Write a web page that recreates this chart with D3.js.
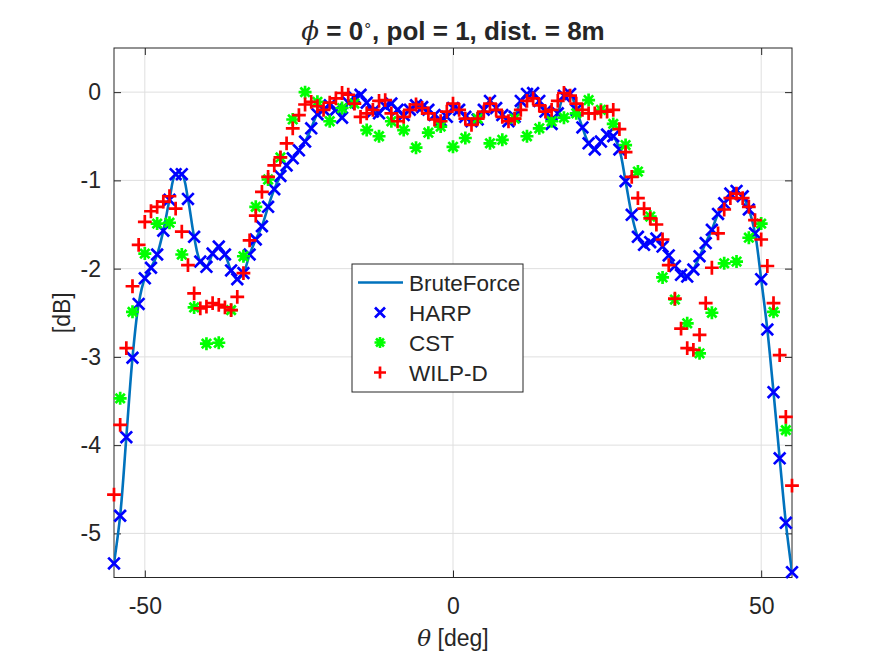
<!DOCTYPE html>
<html><head><meta charset="utf-8">
<script src="https://cdn.jsdelivr.net/npm/d3@7"></script>
<style>
body{margin:0;background:#fff;}
svg text{font-family:"Liberation Sans", Arial, Helvetica, sans-serif;fill:#262626;}
</style>
</head><body>
<svg id="chart" width="875" height="657"></svg>
<script>
// ---------- data ----------
const thetaDeg = d3.range(-55, 56, 1);   // HARP, BruteForce, WILP-D sample angles
const thetaCST = d3.range(-54, 55, 2);   // CST sample angles

const bruteForce = [
 -5.34,-4.80,-3.91,-3.01,-2.40,-2.11,-1.99,-1.84,-1.57,-1.22,
 -0.93,-0.93,-1.21,-1.64,-1.92,-1.98,-1.83,-1.75,-1.84,-2.02,
 -2.12,-2.05,-1.84,-1.67,-1.52,-1.30,-1.10,-0.95,-0.83,-0.75,
 -0.66,-0.56,-0.41,-0.25,-0.20,-0.15,-0.20,-0.29,-0.12,-0.06,
 -0.03,-0.12,-0.22,-0.24,-0.16,-0.13,-0.20,-0.26,-0.20,-0.15,
 -0.17,-0.20,-0.26,-0.32,-0.28,-0.18,-0.20,-0.28,-0.33,-0.31,
 -0.20,-0.10,-0.18,-0.26,-0.33,-0.28,-0.10,-0.02,-0.01,-0.10,
 -0.22,-0.36,-0.24,-0.04,-0.02,-0.20,-0.40,-0.58,-0.65,-0.56,
 -0.48,-0.50,-0.65,-1.01,-1.39,-1.64,-1.73,-1.70,-1.66,-1.75,
 -1.85,-1.97,-2.07,-2.09,-2.01,-1.86,-1.71,-1.56,-1.38,-1.26,
 -1.15,-1.12,-1.18,-1.33,-1.60,-2.12,-2.69,-3.40,-4.15,-4.88,
 -5.44];

const harp = [
 -5.34,-4.80,-3.91,-3.01,-2.40,-2.11,-1.99,-1.84,-1.57,-1.22,
 -0.93,-0.93,-1.21,-1.64,-1.92,-1.98,-1.83,-1.75,-1.84,-2.02,
 -2.12,-2.05,-1.84,-1.67,-1.52,-1.30,-1.10,-0.95,-0.83,-0.75,
 -0.66,-0.56,-0.41,-0.25,-0.20,-0.15,-0.20,-0.29,-0.12,-0.06,
 -0.03,-0.12,-0.22,-0.24,-0.16,-0.13,-0.20,-0.26,-0.20,-0.15,
 -0.17,-0.20,-0.26,-0.32,-0.28,-0.18,-0.20,-0.28,-0.33,-0.31,
 -0.20,-0.10,-0.18,-0.26,-0.33,-0.28,-0.10,-0.02,-0.01,-0.10,
 -0.22,-0.36,-0.24,-0.04,-0.02,-0.20,-0.40,-0.58,-0.65,-0.56,
 -0.48,-0.50,-0.65,-1.01,-1.39,-1.64,-1.73,-1.70,-1.66,-1.75,
 -1.85,-1.97,-2.07,-2.09,-2.01,-1.86,-1.71,-1.56,-1.38,-1.26,
 -1.15,-1.12,-1.18,-1.33,-1.60,-2.12,-2.69,-3.40,-4.15,-4.88,
 -5.44];

const cst = [
 -3.47,-2.49,-1.83,-1.49,-1.48,-1.84,-2.44,-2.85,-2.84,-2.47,
 -1.86,-1.30,-0.99,-0.74,-0.31, 0.00,-0.11,-0.33,-0.18,-0.13,
 -0.43,-0.50,-0.33,-0.43,-0.63,-0.46,-0.39,-0.62,-0.52,-0.30,
 -0.58,-0.54,-0.30,-0.50,-0.41,-0.33,-0.29,-0.24,-0.09,-0.20,
 -0.36,-0.60,-0.90,-1.41,-2.10,-2.35,-2.62,-2.96,-2.50,-1.94,
 -1.92,-1.65,-1.49,-2.49,-3.83];

const wilpd = [
 -4.56,-3.77,-2.90,-2.20,-1.73,-1.47,-1.35,-1.30,-1.24,-1.18,
 -1.32,-1.58,-1.96,-2.28,-2.45,-2.43,-2.39,-2.41,-2.44,-2.47,
 -2.32,-2.05,-1.68,-1.40,-1.13,-0.96,-0.83,-0.74,-0.58,-0.41,
 -0.26,-0.14,-0.11,-0.16,-0.20,-0.12,-0.07,-0.01,-0.03,-0.13,
 -0.28,-0.24,-0.20,-0.10,-0.09,-0.24,-0.33,-0.28,-0.20,-0.14,
 -0.18,-0.24,-0.31,-0.33,-0.22,-0.13,-0.20,-0.30,-0.37,-0.30,
 -0.22,-0.13,-0.20,-0.28,-0.33,-0.30,-0.20,-0.10,-0.07,-0.15,
 -0.22,-0.20,-0.10,-0.01,-0.04,-0.13,-0.20,-0.24,-0.24,-0.22,
 -0.22,-0.20,-0.42,-0.68,-0.96,-1.20,-1.32,-1.43,-1.50,-1.67,
 -1.96,-2.34,-2.68,-2.90,-2.92,-2.75,-2.39,-1.99,-1.60,-1.33,
 -1.20,-1.15,-1.20,-1.30,-1.45,-1.67,-1.97,-2.39,-2.98,-3.68,
 -4.46];

const xTicks = [-50, 0, 50];
const yTicks = [0, -1, -2, -3, -4, -5];
const seriesNames = ["BruteForce", "HARP", "CST", "WILP-D"];

// ---------- layout ----------
const svg = d3.select("#chart");
const L = 114, R = 792, T = 48, B = 577.5;
const x = d3.scaleLinear().domain([-55, 55]).range([L, R]);
const y = d3.scaleLinear().domain([-5.5, 0.5]).range([B, T]);
const axisColor = "#262626";
const gridColor = "#dfdfdf";
const tickFont = "23px";

svg.append("rect").attr("width", 875).attr("height", 657).attr("fill", "#fff");

// grid
const grid = svg.append("g");
grid.selectAll(".gx").data(xTicks).enter().append("line")
  .attr("x1", d => x(d)).attr("x2", d => x(d)).attr("y1", T).attr("y2", B)
  .attr("stroke", gridColor).attr("stroke-width", 1);
grid.selectAll(".gy").data(yTicks).enter().append("line")
  .attr("y1", d => y(d)).attr("y2", d => y(d)).attr("x1", L).attr("x2", R)
  .attr("stroke", gridColor).attr("stroke-width", 1);

// axes
const fmt = d => String(d);
const tickLen = 7;
function styleAxis(g, hideText) {
  g.select(".domain").remove();
  g.selectAll(".tick line").attr("stroke", axisColor).attr("stroke-width", 1);
  g.selectAll(".tick text").attr("fill", axisColor).style("font-size", tickFont)
    .style("font-family", '"Liberation Sans", Arial, sans-serif');
  if (hideText) g.selectAll(".tick text").remove();
}
svg.append("g").attr("transform", `translate(0,${B})`)
  .call(d3.axisBottom(x).tickValues(xTicks).tickFormat(fmt).tickSizeInner(-tickLen).tickSizeOuter(0).tickPadding(20))
  .call(g => styleAxis(g, false));
svg.append("g").attr("transform", `translate(0,${T})`)
  .call(d3.axisTop(x).tickValues(xTicks).tickSizeInner(-tickLen).tickSizeOuter(0))
  .call(g => styleAxis(g, true));
svg.append("g").attr("transform", `translate(${L},0)`)
  .call(d3.axisLeft(y).tickValues(yTicks).tickFormat(fmt).tickSizeInner(-tickLen).tickSizeOuter(0).tickPadding(13))
  .call(g => styleAxis(g, false));
svg.append("g").attr("transform", `translate(${R},0)`)
  .call(d3.axisRight(y).tickValues(yTicks).tickSizeInner(-tickLen).tickSizeOuter(0))
  .call(g => styleAxis(g, true));

// box
svg.append("rect").attr("x", L).attr("y", T).attr("width", R - L).attr("height", B - T)
  .attr("fill", "none").attr("stroke", axisColor).attr("stroke-width", 1);

// ---------- marks ----------
const markerPath = {
  x: s => `M${-s},${-s}L${s},${s}M${-s},${s}L${s},${-s}`,
  plus: s => `M${-s},0H${s}M0,${-s}V${s}`,
  star: s => { const k = s * 0.72; return `M${-s},0H${s}M0,${-s}V${s}M${-k},${-k}L${k},${k}M${-k},${k}L${k},${-k}`; }
};

svg.append("clipPath").attr("id", "plotclip").append("rect")
  .attr("x", L).attr("y", T).attr("width", R - L).attr("height", B - T);

const bfData = thetaDeg.map((t, i) => [t, bruteForce[i]]);
svg.append("path").datum(bfData)
  .attr("clip-path", "url(#plotclip)")
  .attr("fill", "none").attr("stroke", "#0072BD").attr("stroke-width", 2.6)
  .attr("stroke-linejoin", "round")
  .attr("d", d3.line().x(d => x(d[0])).y(d => y(d[1])).curve(d3.curveCatmullRom.alpha(0.5)));

function drawMarkers(xs, ys, type, size, color, width) {
  svg.append("g").selectAll("path").data(xs.map((t, i) => [t, ys[i]])).enter().append("path")
    .attr("transform", d => `translate(${x(d[0])},${y(d[1])})`)
    .attr("d", markerPath[type](size))
    .attr("fill", "none").attr("stroke", color).attr("stroke-width", width)
    .attr("stroke-linecap", "butt");
}
drawMarkers(thetaDeg, harp, "x", 5.8, "#0000FF", 2.7);
drawMarkers(thetaCST, cst, "star", 6.5, "#00FF00", 2.7);
drawMarkers(thetaDeg, wilpd, "plus", 6.9, "#FF0000", 2.7);

// ---------- legend ----------
const lg = svg.append("g");
const lgX = 352, lgY = 264, lgW = 171, lgH = 128;
lg.append("rect").attr("x", lgX).attr("y", lgY).attr("width", lgW).attr("height", lgH)
  .attr("fill", "#fff").attr("stroke", axisColor).attr("stroke-width", 1);
const rowY = i => lgY + 18.5 + i * 30;
const legendSpec = [null, ["x", 5.0, "#0000FF", 2.7], ["star", 5.5, "#00FF00", 2.6], ["plus", 6.0, "#FF0000", 2.7]];
seriesNames.forEach((name, i) => {
  const cy = rowY(i);
  if (i === 0) {
    lg.append("line").attr("x1", lgX + 6).attr("x2", lgX + 51).attr("y1", cy).attr("y2", cy)
      .attr("stroke", "#0072BD").attr("stroke-width", 2.6);
  } else {
    const spec = legendSpec[i];
    lg.append("path").attr("transform", `translate(${lgX + 28},${cy})`).attr("d", markerPath[spec[0]](spec[1]))
      .attr("fill", "none").attr("stroke", spec[2]).attr("stroke-width", spec[3]);
  }
  lg.append("text").attr("x", lgX + 57).attr("y", cy).attr("dy", "0.36em")
    .style("font-size", "22.5px").attr("fill", "#000").text(name);
});

// ---------- titles ----------
const title = svg.append("text").attr("x", (L + R) / 2).attr("y", 40).attr("text-anchor", "middle")
  .style("font-size", "26px").style("font-weight", "bold").attr("fill", "#000");
title.append("tspan").style("font-family", '"DejaVu Serif", serif').style("font-style", "italic")
  .style("font-weight", "normal").text("ϕ");
title.append("tspan").text(" = 0");
title.append("tspan").attr("dy", -10).style("font-size", "15px").style("font-weight", "normal").text("∘");
title.append("tspan").attr("dy", 10).text(", pol = 1, dist. = 8m");

const xl = svg.append("text").attr("x", (L + R) / 2).attr("y", 646).attr("text-anchor", "middle")
  .style("font-size", "23px").attr("fill", axisColor);
xl.append("tspan").style("font-family", '"DejaVu Serif", serif').style("font-style", "italic").text("θ");
xl.append("tspan").text(" [deg]");

svg.append("text").attr("transform", `translate(70,${(T + B) / 2}) rotate(-90)`)
  .attr("text-anchor", "middle").style("font-size", "23px").attr("fill", axisColor).text("[dB]");
</script>
</body></html>
